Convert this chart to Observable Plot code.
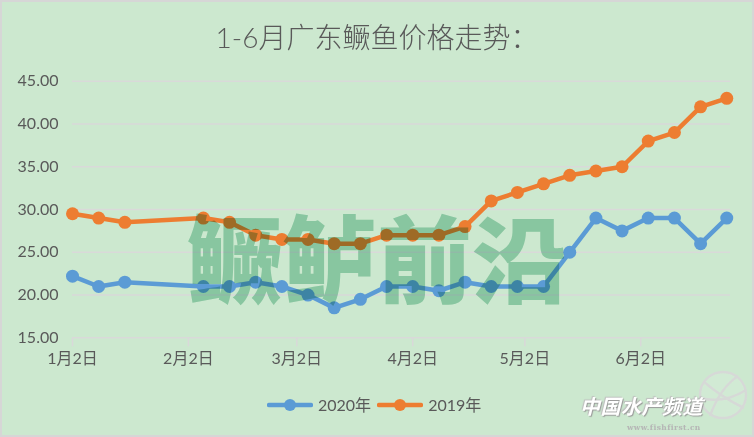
<!DOCTYPE html>
<html>
<head>
<meta charset="utf-8">
<script src="https://cdn.jsdelivr.net/npm/d3@7"></script>
<script src="https://cdn.jsdelivr.net/npm/@observablehq/plot@0.6"></script>
<style>
  html, body { margin: 0; padding: 0; }
  body { width: 754px; height: 437px; overflow: hidden; }
  #wrap { position: relative; width: 754px; height: 437px; background: #cce8cf;
          font-family: Lato, "Noto Sans CJK SC", sans-serif; color: #595959; }
  #wrap svg.plot { position: absolute; left: 0; top: 0; }
  #border { position: absolute; left: 0; top: 0; width: 754px; height: 437px; box-sizing: border-box;
            border: 2px solid #d6d6d6; pointer-events: none; }
  #title { position: absolute; left: 0; top: 17px; width: 754px; text-align: center;
           font-family: Lato, "Noto Sans CJK SC", sans-serif; font-weight: 300; font-size: 28px; line-height: 40px; color: #595959; }
  #mark { position: absolute; left: 187px; top: 190px; font-family: "Noto Sans CJK SC", sans-serif;
          font-weight: 900; font-size: 95px; line-height: 130px; color: rgb(170,218,197);
          mix-blend-mode: multiply; white-space: nowrap; letter-spacing: 0px; pointer-events: none; }
  #legend { position: absolute; left: 267px; top: 393px; display: flex; align-items: center;
            font-size: 16px; line-height: 24px; color: #595959; }
  #legend .item { display: flex; align-items: center; margin-right: 6px; }
  #legend svg { margin-right: 5px; }
  #logo { position: absolute; left: 580px; top: 394px; font-family: "Noto Sans CJK SC", sans-serif;
          font-size: 20px; font-weight: 700; font-style: italic; color: #ffffff; line-height: 24px;
          text-shadow: 1px 1px 1px #9a9a9a, -1px -1px 1px #c0c0c0; letter-spacing: 0.5px; }
  #url { position: absolute; left: 627px; top: 423px; font-family: "DejaVu Serif", serif; font-weight: 700;
         font-size: 7.5px; color: #b5b5b5; line-height: 9px; letter-spacing: 0.4px; }
  #globe { position: absolute; left: 690px; top: 368px; }
</style>
</head>
<body>
<div id="wrap">
  <div id="title"></div>
  <svg id="globe" width="64" height="60" viewBox="0 0 64 60">
    <g fill="none" stroke="#d8d8d8" stroke-width="2.5" opacity="0.9">
      <circle cx="33" cy="27" r="23" fill="rgba(255,255,255,0.12)"/>
      <path d="M14 14 Q33 30 54 40"/>
      <path d="M20 48 Q30 20 48 8"/>
      <path d="M10 30 Q34 36 56 22"/>
    </g>
  </svg>
  <div id="logo"></div>
  <div id="url"></div>
  <div id="legend"></div>
  <div id="border"></div>
</div>
<script>
// ---- data ----
const dates = ["2020-01-02","2020-01-09","2020-01-16","2020-02-06","2020-02-13","2020-02-20","2020-02-27",
  "2020-03-05","2020-03-12","2020-03-19","2020-03-26","2020-04-02","2020-04-09","2020-04-16","2020-04-23",
  "2020-04-30","2020-05-07","2020-05-14","2020-05-21","2020-05-28","2020-06-04","2020-06-11","2020-06-18","2020-06-25"];
const price2020 = [22.2,21,21.5,21,21,21.5,21,20,18.5,19.5,21,21,20.5,21.5,21,21,21,25,29,27.5,29,29,26,29];
const price2019 = [29.5,29,28.5,29,28.5,27,26.5,26.5,26,26,27,27,27,28,31,32,33,34,34.5,35,38,39,42,43];
const seriesNames = ["2020年","2019年"];
const seriesColors = ["#5B9BD5","#ED7D31"];
const xTickDates = ["2020-01-02","2020-02-02","2020-03-02","2020-04-02","2020-05-02","2020-06-02"];
const yTicks = [15,20,25,30,35,40,45];
const titleText = "1-6月广东鳜鱼价格走势：";
const watermarkText = "鳜鲈前沿";
const logoText = "中国水产频道";
const urlText = "www.fishfirst.cn";

// ---- build ----
const toRows = (vals, name) => vals.map((v, i) => ({date: new Date(dates[i]), value: v, series: name}));
const rows2020 = toRows(price2020, seriesNames[0]);
const rows2019 = toRows(price2019, seriesNames[1]);
const xTicks = xTickDates.map(d => new Date(d));

document.getElementById("title").textContent = titleText;
document.getElementById("logo").textContent = logoText;
document.getElementById("url").textContent = urlText;

const chart = Plot.plot({
  width: 754,
  height: 437,
  marginTop: 80.7,
  marginBottom: 99.7,
  marginLeft: 72,
  marginRight: 24,
  style: {background: "transparent", fontFamily: 'Lato, "Noto Sans CJK SC", sans-serif', fontSize: "16px", color: "#595959"},
  x: {type: "utc", domain: [new Date("2020-01-02"), new Date("2020-06-26")]},
  y: {domain: [15, 45]},
  marks: [
    Plot.gridY(yTicks, {stroke: "#d9d9d9", strokeOpacity: 1, strokeWidth: 1.5}),
    Plot.axisY(yTicks, {tickSize: 0, tickPadding: 14, tickFormat: d => d.toFixed(2), label: null, fontSize: 16, fill: "#595959"}),
    Plot.axisX(xTicks, {tickSize: 9, tickPadding: 6, stroke: "#d9d9d9", strokeWidth: 1.5, fill: "#595959", fontSize: 16,
      label: null, tickFormat: d => `${d.getUTCMonth() + 1}月${d.getUTCDate()}日`}),
    Plot.line(rows2020, {x: "date", y: "value", stroke: seriesColors[0], strokeWidth: 4.5, curve: "linear"}),
    Plot.dot(rows2020, {x: "date", y: "value", r: 6.5, fill: seriesColors[0], stroke: "none"}),
    Plot.line(rows2019, {x: "date", y: "value", stroke: seriesColors[1], strokeWidth: 4.5, curve: "linear"}),
    Plot.dot(rows2019, {x: "date", y: "value", r: 6.5, fill: seriesColors[1], stroke: "none"})
  ]
});
chart.classList.add("plot");
const wrap = document.getElementById("wrap");
wrap.insertBefore(chart, document.getElementById("title"));

// watermark above the lines (multiply blend)
const mark = document.createElement("div");
mark.id = "mark";
mark.textContent = watermarkText;
wrap.insertBefore(mark, document.getElementById("globe"));

// legend
const legend = document.getElementById("legend");
seriesNames.forEach((name, i) => {
  const item = document.createElement("div");
  item.className = "item";
  item.innerHTML = `<svg width="46" height="14"><line x1="2" y1="7" x2="44" y2="7" stroke="${seriesColors[i]}" stroke-width="4.5" stroke-linecap="round"/><circle cx="23" cy="7" r="6" fill="${seriesColors[i]}"/></svg><span>${name}</span>`;
  legend.appendChild(item);
});
</script>
</body>
</html>
